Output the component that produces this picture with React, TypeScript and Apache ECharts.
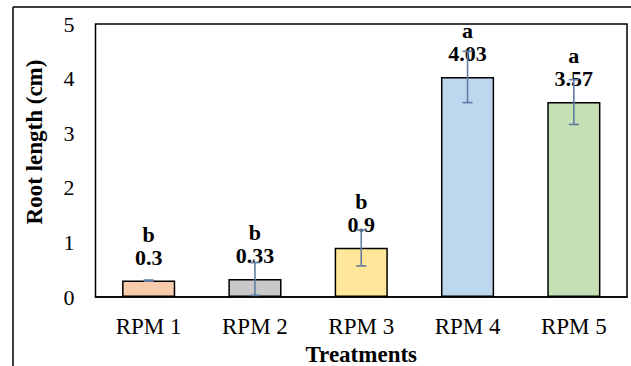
import React, { useEffect, useRef } from "react";
import * as echarts from "echarts";

const categories = ["RPM 1", "RPM 2", "RPM 3", "RPM 4", "RPM 5"];
const rootLength = [0.3, 0.33, 0.9, 4.03, 3.57];
const stdError = [0.01, 0.3, 0.33, 0.47, 0.41];
const groupLetters = ["b", "b", "b", "a", "a"];
const barColors = ["#F8CBAD", "#C9C9C9", "#FFE699", "#BDD7EE", "#C5E0B4"];
const yTicks = [0, 1, 2, 3, 4, 5];

const FONT = "'Liberation Serif', 'Times New Roman', serif";
const ERR_COLOR = "#5F7CA3";

export default function App() {
  const ref = useRef<HTMLDivElement>(null);

  useEffect(() => {
    if (!ref.current) return;
    const chart = echarts.init(ref.current, undefined, { renderer: "svg" });

    const errorData = rootLength.map((v, i) => [i, v - stdError[i], v + stdError[i]]);

    chart.setOption({
      animation: false,
      backgroundColor: "#ffffff",
      grid: {
        left: 95.5,
        right: 4,
        top: 24,
        bottom: 69,
        outerBoundsMode: "none",
        containLabel: false,
        show: true,
        borderColor: "#000000",
        borderWidth: 1.5,
        backgroundColor: "transparent",
      },
      xAxis: {
        type: "category",
        data: categories,
        name: "Treatments",
        nameLocation: "middle",
        nameGap: 45,
        nameTextStyle: { fontFamily: FONT, fontSize: 23, fontWeight: "bold", color: "#000" },
        axisLine: { show: true, lineStyle: { color: "#000", width: 1.5 } },
        axisTick: { show: false },
        axisLabel: { fontFamily: FONT, fontSize: 23, color: "#000", margin: 18 },
      },
      yAxis: {
        type: "value",
        min: yTicks[0],
        max: yTicks[yTicks.length - 1],
        interval: 1,
        splitLine: { show: false },
        axisLine: { show: false },
        axisTick: { show: false },
        axisLabel: { fontFamily: FONT, fontSize: 22, color: "#000", margin: 21 },
      },
      graphic: [
        {
          type: "line",
          shape: { x1: 13, y1: 7, x2: 640, y2: 7 },
          style: { stroke: "#000", lineWidth: 1.5 },
        },
        {
          type: "line",
          shape: { x1: 13, y1: 7, x2: 13, y2: 370 },
          style: { stroke: "#000", lineWidth: 1.5 },
        },
        {
          type: "text",
          x: 34,
          y: 142,
          rotation: Math.PI / 2,
          style: {
            text: "Root length (cm)",
            font: `bold 23px ${FONT}`,
            fill: "#000",
            align: "center",
            verticalAlign: "middle",
          },
        },
      ],
      series: [
        {
          type: "bar",
          barWidth: "50%",
          data: rootLength.map((v, i) => ({
            value: v,
            itemStyle: { color: barColors[i], borderColor: "#000", borderWidth: 1.5 },
            label: {
              show: true,
              position: "top",
              distance: 12,
              formatter: `{l|${groupLetters[i]}}\n{v|${v}}`,
              rich: {
                l: { fontFamily: FONT, fontSize: 22, fontWeight: "bold", color: "#000", lineHeight: 23 },
                v: { fontFamily: FONT, fontSize: 22, fontWeight: "bold", color: "#000", lineHeight: 23 },
              },
            },
          })),
          z: 2,
        },
        {
          type: "custom",
          z: 5,
          data: errorData,
          renderItem: (params: any, api: any) => {
            const idx = api.value(0);
            const lo = api.coord([idx, api.value(1)]);
            const hi = api.coord([idx, api.value(2)]);
            const half = 5;
            const style = { stroke: ERR_COLOR, lineWidth: 1.6 };
            return {
              type: "group",
              children: [
                { type: "line", shape: { x1: hi[0], y1: hi[1], x2: lo[0], y2: lo[1] }, style },
                { type: "line", shape: { x1: hi[0] - half, y1: hi[1], x2: hi[0] + half, y2: hi[1] }, style },
                { type: "line", shape: { x1: lo[0] - half, y1: lo[1], x2: lo[0] + half, y2: lo[1] }, style },
              ],
            };
          },
        },
      ],
    });

    return () => chart.dispose();
  }, []);

  return (
    <div
      ref={ref}
      style={{ position: "fixed", left: 0, top: 0, width: 631, height: 366 }}
    />
  );
}
